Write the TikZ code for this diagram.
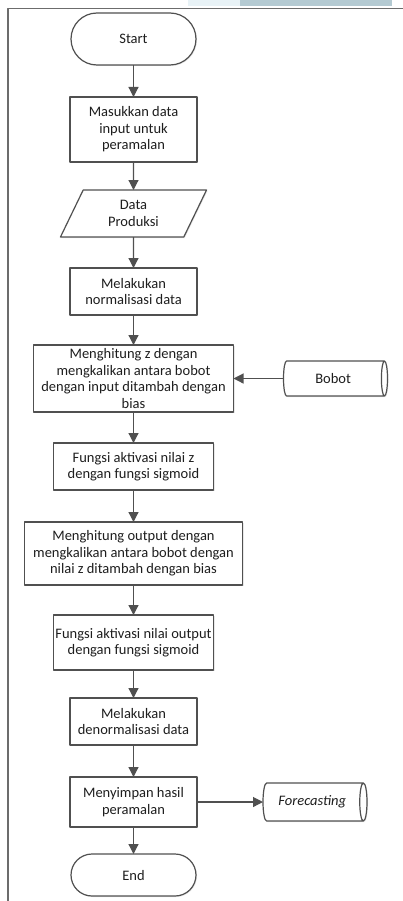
\documentclass[tikz,border=0pt]{standalone}
\usepackage{fontspec}
\setmainfont{Carlito}
\usetikzlibrary{arrows.meta,positioning,shapes.geometric,shapes.misc,shadows}

\definecolor{linegray}{RGB}{80,80,80}
\definecolor{textgray}{RGB}{30,30,30}
\definecolor{bandblue}{RGB}{180,202,210}
\definecolor{bandpale}{RGB}{232,242,246}

\begin{document}
\begin{tikzpicture}[
    x=1pt, y=1pt,
    font=\fontsize{14.5}{16.6}\selectfont,
    >={Triangle[length=10pt,width=10pt]},
    line join=round,
    node distance=30pt,
    base/.style={draw=linegray, line width=1.2pt, fill=white, text=textgray, align=center,
                 inner sep=1pt, outer sep=0pt,
                 drop shadow={opacity=0.18, shadow xshift=1pt, shadow yshift=-1pt}},
    term/.style={base, rounded rectangle, minimum width=127pt, minimum height=52pt},
    proc/.style={base, rectangle, minimum width=127pt},
    io/.style={base, trapezium, trapezium left angle=67, trapezium right angle=113,
               trapezium stretches=true, minimum width=147pt, minimum height=47pt},
    store/.style={base, cylinder, aspect=0.5, minimum height=104pt},
    flow/.style={->, draw=linegray, line width=1.2pt}
]

% ------------------------
% Page frame
% ------------------------
\useasboundingbox (0,0) rectangle (403,-901);
\fill[bandpale] (188,0) rectangle (240,-6.5);
\fill[bandblue] (240,0) rectangle (392,-6.5);
\draw[gray!85!black, line width=1.4pt] (8,-901) -- (8,-8.5) -- (403,-8.5);

% ------------------------
% Main flow
% ------------------------
\node[term] (start) at (133.5,-39) {Start};
\node[proc, below=32pt of start, minimum height=65pt] (input) {Masukkan data\\input untuk\\peramalan};
\node[io, below=28pt of input] (data) {Data\\Produksi};
\node[proc, below=31pt of data, minimum height=47pt] (norm) {Melakukan\\normalisasi data};
\node[proc, below=30pt of norm, minimum width=200pt, minimum height=67pt] (hitz)
    {Menghitung z dengan\\mengkalikan antara bobot\\dengan input ditambah dengan\\bias};
\node[proc, below=31pt of hitz, minimum width=160pt, minimum height=47pt] (aktz)
    {Fungsi aktivasi nilai z\\dengan fungsi sigmoid};
\node[proc, below=32pt of aktz, minimum width=218pt, minimum height=63pt] (hitout)
    {Menghitung output dengan\\mengkalikan antara bobot dengan\\nilai z ditambah dengan bias};
\node[proc, below=30pt of hitout, minimum width=160pt, minimum height=55pt] (aktout)
    {Fungsi aktivasi nilai output\\dengan fungsi sigmoid};
\node[proc, below=28pt of aktout, minimum height=47pt] (denorm) {Melakukan\\denormalisasi data};
\node[proc, below=32pt of denorm, minimum height=50pt] (simpan) {Menyimpan hasil\\peramalan};
\node[term, below=27pt of simpan, minimum height=42pt] (end) {End};

% ------------------------
% Stores
% ------------------------
\node[store, right=50pt of hitz, minimum width=35pt] (bobot) {Bobot};
\node[store, right=66pt of simpan, minimum width=38pt] (hasil) {\itshape Forecasting};

% ------------------------
% Connectors
% ------------------------
\draw[flow] (start) -- (input);
\draw[flow] (input) -- (data);
\draw[flow] (data) -- (norm);
\draw[flow] (norm) -- (hitz);
\draw[flow] (bobot) -- (hitz);
\draw[flow] (hitz) -- (aktz);
\draw[flow] (aktz) -- (hitout);
\draw[flow] (hitout) -- (aktout);
\draw[flow] (aktout) -- (denorm);
\draw[flow] (denorm) -- (simpan);
\draw[flow] (simpan) -- (hasil);
\draw[flow] (simpan) -- (end);

\end{tikzpicture}
\end{document}
